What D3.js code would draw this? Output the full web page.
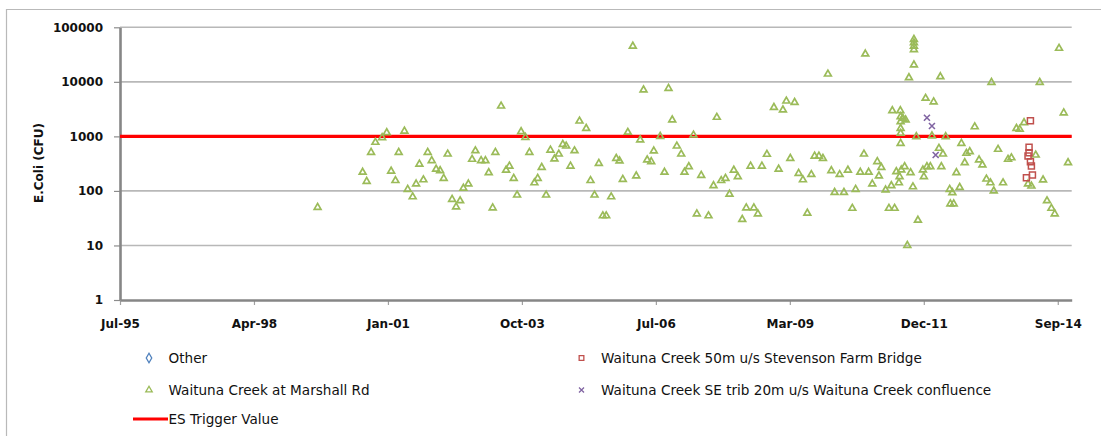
<!DOCTYPE html>
<html><head><meta charset="utf-8">
<script src="https://cdn.jsdelivr.net/npm/d3@7"></script>
<style>html,body{margin:0;padding:0;background:#fff;} svg{display:block;}</style>
</head><body>
<svg id="chart" width="1101" height="436"></svg>
<script>
// ---------------- DATA ----------------
const yTickValues = [1, 10, 100, 1000, 10000, 100000];
const axisStart = "1995-07-21";
const axisEnd = "2015-01-01";
const tickStepDays = 1000;
const tickCount = 8;
const triggerValue = 1000;
const yAxisTitle = "E.Coli (CFU)";
const legendNames = ["Other", "Waituna Creek 50m u/s Stevenson Farm Bridge", "Waituna Creek at Marshall Rd",
  "Waituna Creek SE trib 20m u/s Waituna Creek confluence", "ES Trigger Value"];

// sample dates as decimal years, values in CFU
const otherYear = [];
const otherValue = [];

const marshallYear = [
  1999.589, 2000.509, 2000.591, 2000.681, 2000.769, 2000.906, 2001.000, 2001.090, 2001.178, 2001.245,
  2001.362, 2001.429, 2001.531, 2001.601, 2001.668, 2001.750, 2001.838, 2001.920, 2002.010, 2002.092,
  2002.165, 2002.247, 2002.337, 2002.419, 2002.501, 2002.568, 2002.670, 2002.746, 2002.813, 2002.930,
  2003.018, 2003.086, 2003.167, 2003.222, 2003.339, 2003.441, 2003.509, 2003.597, 2003.666, 2003.748,
  2003.836, 2003.918, 2004.020, 2004.087, 2004.169, 2004.259, 2004.347, 2004.429, 2004.517, 2004.599,
  2004.668, 2004.756, 2004.838, 2004.940, 2005.077, 2005.165, 2005.247, 2005.335, 2005.417, 2005.486,
  2005.588, 2005.691, 2005.758, 2005.825, 2005.928, 2006.030, 2006.100, 2006.181, 2006.249, 2006.324,
  2006.406, 2006.459, 2006.590, 2006.678, 2006.760, 2006.836, 2006.930, 2007.020, 2007.087, 2007.175,
  2007.271, 2007.339, 2007.429, 2007.578, 2007.680, 2007.748, 2007.838, 2007.925, 2008.007, 2008.095,
  2008.177, 2008.267, 2008.349, 2008.437, 2008.504, 2008.586, 2008.668, 2008.770, 2008.913, 2009.009,
  2009.097, 2009.167, 2009.248, 2009.336, 2009.418, 2009.506, 2009.596, 2009.678, 2009.745, 2009.833,
  2009.915, 2010.017, 2010.087, 2010.154, 2010.257, 2010.345, 2010.426, 2010.516, 2010.584, 2010.680,
  2010.754, 2010.782, 2010.850, 2010.925, 2011.027, 2011.060, 2011.109, 2011.197, 2011.265, 2011.314,
  2011.334, 2011.381, 2011.416, 2011.469, 2011.483, 2011.498, 2011.504, 2011.504, 2011.504, 2011.504,
  2011.504, 2011.551, 2011.606, 2011.518, 2011.586, 2011.641, 2011.674, 2011.708, 2011.756, 2011.776,
  2011.776, 2011.776, 2011.776, 2011.776, 2011.825, 2011.858, 2011.960, 2011.980, 2012.015, 2012.179,
  2012.144, 2012.287, 2012.369, 2012.316, 2012.424, 2012.042, 2012.111, 2012.336, 2012.506, 2012.561,
  2012.710, 2012.520, 2012.588, 2012.643, 2012.745, 2012.813, 2012.847, 2012.915, 2013.017, 2013.105,
  2013.174, 2013.256, 2013.338, 2013.406, 2013.359, 2013.494, 2013.596, 2013.698, 2013.767, 2013.870,
  2013.937, 2014.025, 2014.107, 2014.176, 2014.264, 2014.346, 2014.414, 2014.495, 2014.585, 2014.653,
  2014.741, 2014.837, 2014.925
];
const marshallValue = [
  50, 220, 150, 510, 780, 950, 1170, 230, 155, 510,
  1250, 107, 78, 134, 310, 160, 510, 360, 250, 235,
  170, 475, 70, 51, 66, 112, 134, 380, 545, 360,
  360, 216, 49, 510, 3600, 240, 285, 170, 84, 1220,
  960, 510, 141, 170, 270, 84, 560, 385, 475, 715,
  665, 285, 545, 1910, 1400, 155, 84, 320, 35, 35,
  78, 395, 355, 163, 1190, 45000, 188, 860, 7100, 370,
  345, 540, 1000, 220, 7600, 2000, 665, 475, 220, 278,
  1060, 38, 193, 35, 125, 2240, 155, 170, 87, 240,
  182, 30, 49, 285, 49, 38, 285, 470, 3400, 250,
  3050, 4450, 395, 4200, 210, 160, 39, 200, 435, 435,
  395, 13900, 235, 94, 200, 94, 240, 48, 107, 220,
  475, 32400, 220, 134, 345, 188, 270, 104, 48, 125,
  2960, 48, 225, 141, 182, 2960, 2300, 1860, 1400, 1140,
  745, 2150, 2000, 242, 278, 10, 11900, 216, 119, 20400,
  60000, 52000, 45000, 39000, 990, 29, 242, 182, 5000, 4300,
  1020, 605, 475, 12400, 990, 278, 278, 278, 107, 93,
  116, 58, 58, 216, 745, 330, 490, 525, 1500, 370,
  300, 165, 141, 100, 9800, 580, 141, 380, 405, 1400,
  1350, 1780, 134, 123, 455, 9800, 159, 66, 48, 38,
  41200, 2700, 330
];

const stevensonYear = [2014.156, 2014.128, 2014.128, 2014.107, 2014.156, 2014.176, 2014.197, 2014.074];
const stevensonValue = [1940, 630, 500, 437, 343, 286, 196, 175];

const seTribYear = [2012.042, 2012.144, 2012.220];
const seTribValue = [2200, 1550, 456];

// ---------------- CHART ----------------
const svg = d3.select("#chart");
const plot = {left: 120, right: 1071.7, top: 27.3, bottom: 300};

const parseDay = d3.utcParse("%Y-%m-%d");
const t0 = parseDay(axisStart), t1 = parseDay(axisEnd);
function yearToDate(yv) {
  const yr = Math.floor(yv);
  const a = Date.UTC(yr, 0, 1), b = Date.UTC(yr + 1, 0, 1);
  return new Date(a + (yv - yr) * (b - a));
}

const x = d3.scaleUtc().domain([t0, t1]).range([plot.left, plot.right]);
const y = d3.scaleLog().domain([1, 100000]).range([plot.bottom, plot.top]);

const xTicks = d3.range(tickCount).map(i => d3.utcDay.offset(t0, i * tickStepDays));

// outer frame (left & top visible)
svg.append("path").attr("d", "M6.5,436 V9.5 H1101").attr("fill", "none")
  .attr("stroke", "#b9b9b9").attr("stroke-width", 1.2);

// gridlines
svg.append("g").selectAll("line").data(yTickValues.filter(v => v > 1)).join("line")
  .attr("x1", plot.left).attr("x2", plot.right)
  .attr("y1", d => y(d)).attr("y2", d => y(d))
  .attr("stroke", "#b8b8b8").attr("stroke-width", 1.6);

// y axis
const gy = svg.append("g").attr("transform", `translate(${plot.left},0)`)
  .call(d3.axisLeft(y).tickValues(yTickValues).tickFormat(d3.format("d")).tickSize(6).tickSizeOuter(0).tickPadding(11));
gy.select(".domain").attr("stroke", "#868686").attr("stroke-width", 2.6);
gy.selectAll(".tick line").attr("stroke", "#8c8c8c").attr("stroke-width", 1.2);
gy.selectAll(".tick text").attr("font-family", "DejaVu Sans").attr("font-weight", "bold")
  .attr("font-size", "12px").attr("fill", "#111");

// x axis
const gx = svg.append("g").attr("transform", `translate(0,${plot.bottom})`)
  .call(d3.axisBottom(x).tickValues(xTicks).tickFormat(d3.utcFormat("%b-%y")).tickSize(5).tickSizeOuter(0));
gx.select(".domain").attr("stroke", "#868686").attr("stroke-width", 2.6);
gx.selectAll(".tick line").attr("stroke", "#a0a0a0").attr("stroke-width", 1.2);
gx.selectAll(".tick text").attr("y", 27.5).attr("dy", 0).attr("font-family", "DejaVu Sans")
  .attr("font-weight", "bold").attr("font-size", "12px").attr("fill", "#111");
svg.selectAll(".domain").raise();

// y title
svg.append("text").attr("transform", "translate(43,163) rotate(-90)")
  .attr("text-anchor", "middle").attr("font-family", "DejaVu Sans").attr("font-weight", "bold")
  .attr("font-size", "12px").attr("fill", "#111").text(yAxisTitle);

// trigger line
svg.append("line").attr("x1", plot.left).attr("x2", plot.right)
  .attr("y1", y(triggerValue)).attr("y2", y(triggerValue))
  .attr("stroke", "#ff0000").attr("stroke-width", 3.2);

// markers
const triPath = d3.symbol(d3.symbolTriangle, 20)();
const sqPath = d3.symbol(d3.symbolSquare, 36)();
const diaPath = d3.symbol(d3.symbolDiamond, 30)();
const xPath = "M-3,-3L3,3M-3,3L3,-3";

function series(years, values) { return years.map((yr, i) => ({t: yearToDate(yr), v: values[i]})); }

svg.append("g").selectAll("path").data(series(marshallYear, marshallValue)).join("path")
  .attr("d", triPath).attr("transform", d => `translate(${x(d.t)},${y(d.v)})`)
  .attr("fill", "none").attr("stroke", "#9bbb59").attr("stroke-width", 1.7);

svg.append("g").selectAll("path").data(series(otherYear, otherValue)).join("path")
  .attr("d", diaPath).attr("transform", d => `translate(${x(d.t)},${y(d.v)})`)
  .attr("fill", "none").attr("stroke", "#4f81bd").attr("stroke-width", 1.5);

svg.append("g").selectAll("path").data(series(stevensonYear, stevensonValue)).join("path")
  .attr("d", sqPath).attr("transform", d => `translate(${x(d.t)},${y(d.v)})`)
  .attr("fill", "none").attr("stroke", "#c0504d").attr("stroke-width", 1.5);

svg.append("g").selectAll("path").data(series(seTribYear, seTribValue)).join("path")
  .attr("d", xPath).attr("transform", d => `translate(${x(d.t)},${y(d.v)})`)
  .attr("fill", "none").attr("stroke", "#8064a2").attr("stroke-width", 1.6);

// legend
const leg = svg.append("g").attr("font-family", "DejaVu Sans").attr("font-size", "13.6px").attr("fill", "#111");
const legendItems = [
  {name: legendNames[0], mx: 149, my: 358, kind: "dia"},
  {name: legendNames[1], mx: 581.5, my: 358, kind: "sq"},
  {name: legendNames[2], mx: 149, my: 390, kind: "tri"},
  {name: legendNames[3], mx: 581.5, my: 390, kind: "x"},
  {name: legendNames[4], mx: 151, my: 419, kind: "line"}
];
legendItems.forEach(it => {
  const g = leg.append("g");
  if (it.kind === "line") {
    g.append("line").attr("x1", it.mx - 18).attr("x2", it.mx + 17).attr("y1", it.my).attr("y2", it.my)
      .attr("stroke", "#ff0000").attr("stroke-width", 3.2);
  } else {
    const d = it.kind === "dia" ? d3.symbol(d3.symbolDiamond, 26)() : it.kind === "sq" ? d3.symbol(d3.symbolSquare, 22)()
      : it.kind === "tri" ? d3.symbol(d3.symbolTriangle, 18)() : "M-2.5,-2.5L2.5,2.5M-2.5,2.5L2.5,-2.5";
    const col = it.kind === "dia" ? "#4f81bd" : it.kind === "sq" ? "#c0504d" : it.kind === "tri" ? "#9bbb59" : "#8064a2";
    g.append("path").attr("d", d).attr("transform", `translate(${it.mx},${it.my})`)
      .attr("fill", "none").attr("stroke", col).attr("stroke-width", 1.3);
  }
  g.append("text").attr("x", it.kind === "line" ? 168.5 : it.mx + 19.5).attr("y", it.my).attr("dy", "0.35em").text(it.name);
});
</script>
</body></html>
